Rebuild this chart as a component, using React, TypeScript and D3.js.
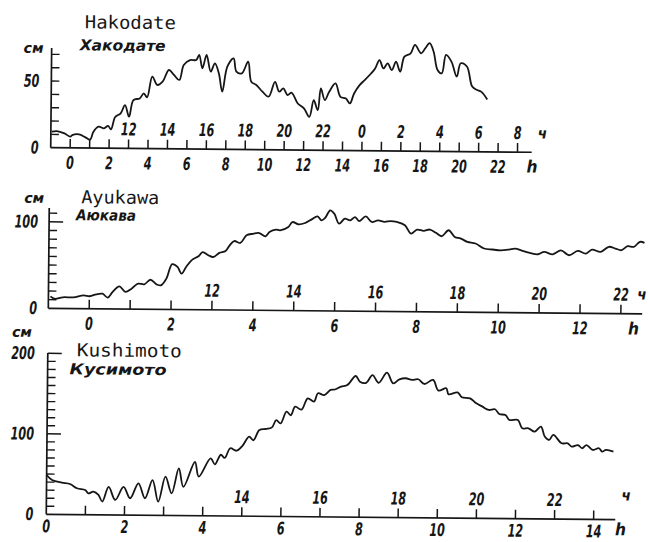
import React from "react";
import * as d3 from "d3";

// ---- data: [hour (GMT, h), sea level (cm)] ----
const hakodate: [number, number][] = [
  [-0.95, 12], [-0.7, 12.5], [-0.3, 10.8], [0.0, 8.4], [0.1, 9.6], [0.45, 10.2], [0.76, 8.2], [1.02, 6.3],
  [1.19, 12.3], [1.45, 16.1], [1.73, 14.9], [1.94, 16.7], [2.09, 14.2], [2.3, 23.5], [2.58, 26.3], [2.8, 32.5],
  [3.01, 23.8], [3.23, 36.3], [3.55, 37.6], [3.76, 41.4], [3.93, 38.4], [4.19, 54], [4.45, 47.8], [4.72, 50.3],
  [5.04, 59.1], [5.3, 55.4], [5.58, 51.7], [5.8, 63], [6.12, 66.7], [6.44, 66.8], [6.59, 70.6], [6.76, 60.6],
  [6.97, 70.6], [7.19, 58.1], [7.4, 64.4], [7.61, 56.9], [7.79, 43.2], [8.04, 62], [8.36, 68.3], [8.51, 58.3],
  [8.79, 57.1], [9.11, 65.9], [9.28, 50.9], [9.54, 48.5], [9.86, 43.5], [10.18, 39.8], [10.5, 51], [10.72, 43.6],
  [10.93, 46.1], [11.15, 41.1], [11.36, 42.9], [11.68, 34.9], [12.0, 31.3], [12.28, 25], [12.5, 37.5], [12.71, 30],
  [12.86, 46.3], [13.07, 37.6], [13.29, 43.9], [13.61, 50.2], [13.87, 40.2], [14.15, 39], [14.36, 35.3], [14.57, 42.8],
  [14.85, 49.1], [15.11, 52.9], [15.43, 57.9], [15.64, 61.7], [15.86, 68], [16.07, 61.8], [16.28, 65.6], [16.5, 60.6],
  [16.71, 66.9], [16.93, 59.5], [17.14, 70.8], [17.46, 73.3], [17.68, 79.6], [18.0, 73.4], [18.21, 77.2], [18.43, 81],
  [18.64, 74.7], [18.85, 61], [19.07, 58.5], [19.28, 72.4], [19.56, 67.4], [19.84, 56.2], [20.04, 66.2], [20.36, 63.8],
  [20.64, 48.8], [20.89, 46.3], [21.1, 45.1], [21.42, 39.3],
];

const ayukawa: [number, number][] = [
  [-0.95, 13.9], [-0.85, 11.1], [-0.65, 12.9], [-0.39, 13], [-0.14, 15.4], [0.01, 14.4], [0.17, 16.7], [0.32, 17.5],
  [0.45, 13], [0.57, 19.6], [0.73, 26.2], [0.88, 19.8], [1.03, 23.6], [1.19, 29.5], [1.34, 28.8], [1.49, 34.1],
  [1.64, 28.9], [1.75, 27.8], [1.88, 35.6], [2.02, 52.4], [2.15, 49.2], [2.25, 41.5], [2.36, 49.3], [2.51, 57.9],
  [2.66, 61.8], [2.76, 66.7], [2.9, 63.1], [3.02, 61.1], [3.17, 65.9], [3.32, 68.2], [3.42, 74.8], [3.53, 79.8],
  [3.68, 77.6], [3.83, 86.5], [3.99, 88.4], [4.14, 89.3], [4.29, 85.6], [4.39, 90.7], [4.55, 93.4], [4.65, 92.7],
  [4.85, 96.6], [4.95, 102.4], [5.1, 99.7], [5.26, 101.4], [5.41, 105.4], [5.56, 109.3], [5.66, 104.7], [5.75, 107.7],
  [5.87, 116.3], [5.97, 112.5], [6.09, 101], [6.23, 106.8], [6.36, 104.9], [6.48, 108.8], [6.58, 104.2], [6.74, 109.7],
  [6.89, 103.3], [7.04, 105.3], [7.2, 103.5], [7.35, 104.6], [7.5, 103.6], [7.7, 99.9], [7.85, 90.3], [8.0, 95],
  [8.16, 93.6], [8.31, 95.2], [8.46, 91.5], [8.6, 87.6], [8.77, 94.6], [8.92, 86.9], [9.07, 85.1], [9.23, 81.4],
  [9.43, 79.6], [9.64, 73.9], [9.84, 72.8], [10.05, 72], [10.25, 72.9], [10.4, 74.1], [10.55, 72.2], [10.76, 69.3],
  [10.96, 67.8], [11.11, 70.6], [11.32, 67.9], [11.52, 72.6], [11.72, 67], [11.93, 72.1], [12.13, 69.1], [12.28, 73.8],
  [12.49, 71.2], [12.69, 77.2], [12.85, 75.3], [13.0, 73.4], [13.15, 78.1], [13.3, 77.4], [13.45, 83.3], [13.56, 82.2],
];

const kushimoto: [number, number][] = [
  [0, 48.8], [0.14, 42.7], [0.39, 39.5], [0.6, 37.9], [0.78, 32.7], [0.99, 30.7], [1.07, 26.5], [1.2, 28.6],
  [1.33, 24.6], [1.43, 16.4], [1.59, 34.7], [1.76, 18.6], [1.97, 34.9], [2.14, 20.9], [2.35, 39.6], [2.52, 21.1],
  [2.71, 43.8], [2.86, 17], [3.04, 48.1], [3.2, 27.5], [3.38, 58.6], [3.5, 35.6], [3.79, 66.7], [3.89, 48.5],
  [4.19, 71.5], [4.3, 64], [4.45, 76], [4.55, 72.1], [4.69, 84.2], [4.85, 81.2], [5.0, 87.3], [5.17, 98.9],
  [5.28, 94.4], [5.43, 107.3], [5.6, 108.6], [5.75, 110.6], [5.86, 119.7], [5.97, 115.7], [6.12, 130.3], [6.23, 125.9],
  [6.34, 136.6], [6.5, 133], [6.66, 147.1], [6.82, 143.1], [6.92, 153.5], [7.08, 151.3], [7.24, 157.8], [7.35, 158.4],
  [7.51, 162.1], [7.67, 164.1], [7.88, 175.4], [7.99, 168.4], [8.15, 167.1], [8.31, 176.8], [8.47, 167.3], [8.68, 180],
  [8.84, 166.8], [9.0, 171.8], [9.16, 173.2], [9.32, 171.2], [9.48, 172.1], [9.64, 166.3], [9.86, 171.4], [10.0, 158.2],
  [10.2, 161.2], [10.26, 153.7], [10.49, 156.3], [10.6, 150.2], [10.81, 149], [10.97, 142.9], [11.13, 138.8], [11.29, 134.8],
  [11.45, 135.7], [11.56, 129.9], [11.72, 128.7], [11.82, 122.6], [12.04, 122.7], [12.15, 112.4], [12.31, 112.5], [12.47, 108.4],
  [12.63, 114.7], [12.73, 102.4], [12.84, 98.2], [12.95, 104.5], [13.16, 94.3], [13.32, 94.3], [13.42, 90.2], [13.58, 92.2],
  [13.69, 88.3], [13.8, 92.3], [13.96, 86.3], [14.12, 88.5], [14.2, 84.3], [14.3, 86.6], [14.49, 84.5],
];

// tick labels
const p1Top = ["12", "14", "16", "18", "20", "22", "0", "2", "4", "6", "8"];
const p1Bottom = ["0", "2", "4", "6", "8", "10", "12", "14", "16", "18", "20", "22"];
const p2Top = ["12", "14", "16", "18", "20", "22"];
const p2Bottom = ["0", "2", "4", "6", "8", "10", "12"];
const p3Top = ["14", "16", "18", "20", "22"];
const p3Bottom = ["0", "2", "4", "6", "8", "10", "12", "14"];
const p1YTicks = [10, 20, 30, 40, 50, 60, 70];
const p2YTicks = [10, 20, 30, 40, 50, 60, 70, 80, 90, 100, 110];
const p3YTicks = d3.range(10, 201, 10);
const p1YLabels = [50, 0];
const p2YLabels = [100, 0];
const p3YLabels = [200, 100, 0];

const NUM_FONT = "'DejaVu Sans Condensed', 'DejaVu Sans', sans-serif";
const INK = "#161616";

type Cfg = {
  data: [number, number][];
  hDomain: [number, number];
  xRange: [number, number];
  axisEnd: number;
  yDomain: [number, number];
  yRange: [number, number];
  yTop: number;
  xTicks: number[];
  topStart: number;
  top: string[];
  bottomStart: number;
  bottom: string[];
  lowOff: number;
  yTicks: number[];
  longTicks: number[];
  yLabels: number[];
  labelX: number;
  cmPos: [number, number];
  title: string; titlePos: [number, number]; titleLen: number;
  ru: string; ruPos: [number, number]; ruLen: number;
  chPos: [number, number];
  hPos: [number, number];
};

function Num({ x, y, t, anchor = "middle" }: { x: number; y: number; t: string; anchor?: string }) {
  return (
    <text x={x} y={y} textAnchor={anchor as any} fontFamily={NUM_FONT} fontStyle="italic" fontWeight="bold"
      fontSize={17.5} fill={INK} textLength={t.length * 7.8} lengthAdjust="spacingAndGlyphs">{t}</text>
  );
}

function Panel({ c }: { c: Cfg }) {
  const x = d3.scaleLinear().domain(c.hDomain).range(c.xRange);
  const y = d3.scaleLinear().domain(c.yDomain).range(c.yRange);
  const base = y(0);
  const line = d3.line<[number, number]>().x(d => x(d[0])).y(d => y(d[1])).curve(d3.curveCatmullRom.alpha(0.5));
  const ax = c.xRange[0];
  return (
    <g>
      <path d={line(c.data) || ""} fill="none" stroke={INK} strokeWidth={1.8} strokeLinejoin="round" />
      <line x1={ax} x2={c.axisEnd} y1={base} y2={base} stroke={INK} strokeWidth={1.7} />
      <line x1={ax} x2={ax} y1={base} y2={c.yTop} stroke={INK} strokeWidth={1.7} />
      {c.yTicks.map(v => (
        <line key={v} x1={ax} x2={ax + (c.longTicks.includes(v) ? 14 : 8)} y1={y(v)} y2={y(v)} stroke={INK} strokeWidth={1.4} />
      ))}
      {c.xTicks.map(h => (
        <line key={h} x1={x(h)} x2={x(h)} y1={base} y2={base - 9} stroke={INK} strokeWidth={1.5} />
      ))}
      {c.top.map((t, i) => <Num key={"t" + i} x={x(c.topStart + 2 * i)} y={base - 13} t={t} />)}
      {c.bottom.map((t, i) => <Num key={"b" + i} x={x(c.bottomStart + 2 * i)} y={base + c.lowOff} t={t} />)}
      {c.yLabels.map(v => <Num key={"y" + v} x={c.labelX} y={y(v) + 6} t={String(v)} anchor="end" />)}
      <text x={c.cmPos[0]} y={c.cmPos[1]} fontFamily={NUM_FONT} fontStyle="italic" fontWeight="bold" fontSize={14} fill={INK}
        textLength={20} lengthAdjust="spacingAndGlyphs">см</text>
      <text x={c.chPos[0]} y={c.chPos[1]} fontFamily={NUM_FONT} fontStyle="italic" fontWeight="bold" fontSize={15} fill={INK}>ч</text>
      <text x={c.hPos[0]} y={c.hPos[1]} fontFamily={NUM_FONT} fontStyle="italic" fontWeight="bold" fontSize={17} fill={INK}>h</text>
      <text x={c.titlePos[0]} y={c.titlePos[1]} fontFamily="'DejaVu Sans Mono', monospace" fontSize={18} fill={INK}
        textLength={c.titleLen} lengthAdjust="spacingAndGlyphs">{c.title}</text>
      <text x={c.ruPos[0]} y={c.ruPos[1]} fontFamily={NUM_FONT} fontStyle="italic" fontWeight="bold" fontSize={15} fill={INK}
        textLength={c.ruLen} lengthAdjust="spacingAndGlyphs">{c.ru}</text>
    </g>
  );
}

const panels: Cfg[] = [
  {
    data: hakodate, hDomain: [-1, 23], xRange: [49, 515.8], axisEnd: 530, yDomain: [0, 50], yRange: [147.7, 81], yTop: 48,
    xTicks: d3.range(0, 24), topStart: 3, top: p1Top, bottomStart: 0, bottom: p1Bottom, lowOff: 21,
    yTicks: p1YTicks, longTicks: [], yLabels: p1YLabels, labelX: 37, cmPos: [21, 53],
    title: "Hakodate", titlePos: [82, 28], titleLen: 91, ru: "Хакодате", ruPos: [77, 50], ruLen: 86,
    chPos: [536, 134], hPos: [525, 168],
  },
  {
    data: ayukawa, hDomain: [-1, 13], xRange: [48.1, 620.7], axisEnd: 642, yDomain: [0, 100], yRange: [308.3, 221.8], yTop: 208,
    xTicks: d3.range(0, 14), topStart: 3, top: p2Top, bottomStart: 0, bottom: p2Bottom, lowOff: 21,
    yTicks: p2YTicks, longTicks: [100], yLabels: p2YLabels, labelX: 37, cmPos: [23, 203],
    title: "Ayukawa", titlePos: [80, 203], titleLen: 78, ru: "Аюкава", ruPos: [75, 220], ruLen: 60,
    chPos: [637, 294], hPos: [628, 329],
  },
  {
    data: kushimoto, hDomain: [0, 14], xRange: [48, 595.4], axisEnd: 617, yDomain: [0, 200], yRange: [514.3, 353.3], yTop: 353,
    xTicks: d3.range(1, 15), topStart: 5, top: p3Top, bottomStart: 0, bottom: p3Bottom, lowOff: 18,
    yTicks: p3YTicks, longTicks: [100, 200], yLabels: p3YLabels, labelX: 35, cmPos: [12, 337],
    title: "Kushimoto", titlePos: [77, 356], titleLen: 105, ru: "Кусимото", ruPos: [70, 374], ruLen: 97,
    chPos: [623, 495], hPos: [617, 530],
  },
];

export default function App() {
  return (
    <svg width={648} height={542} viewBox="0 0 648 542" style={{ position: "absolute", left: 0, top: 0, background: "#fff" }}>
      <rect x={0} y={0} width={648} height={542} fill="#fff" />
      <g transform="rotate(0.54 48 330)">
        {panels.map((c, i) => <Panel key={i} c={c} />)}
      </g>
    </svg>
  );
}
